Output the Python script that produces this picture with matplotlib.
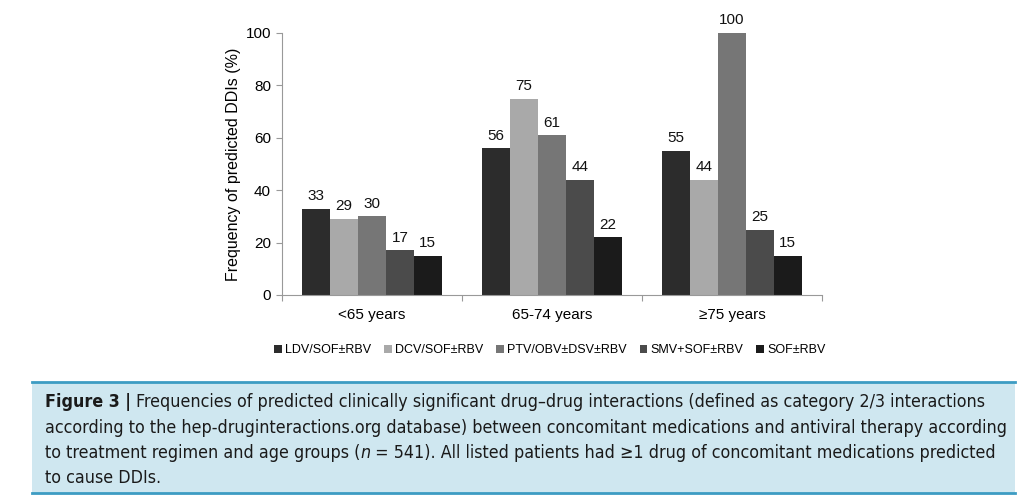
import numpy as np
import matplotlib
matplotlib.use("Agg")
import matplotlib.pyplot as plt
from matplotlib.patches import Rectangle
from matplotlib import font_manager

# data
age_groups = ["<65 years", "65-74 years", "\u226575 years"]
regimens = ["LDV/SOF\u00b1RBV", "DCV/SOF\u00b1RBV", "PTV/OBV\u00b1DSV\u00b1RBV",
            "SMV+SOF\u00b1RBV", "SOF\u00b1RBV"]
ldv_sof = [33, 56, 55]
dcv_sof = [29, 75, 44]
ptv_obv = [30, 61, 100]
smv_sof = [17, 44, 25]
sof_only = [15, 22, 15]
series = [ldv_sof, dcv_sof, ptv_obv, smv_sof, sof_only]
bar_colors = ["#2c2c2c", "#a9a9a9", "#767676", "#4b4b4b", "#1b1b1b"]

caption_lines = [
    [("Figure 3 | ", "bold"), ("Frequencies of predicted clinically significant drug\u2013drug interactions (defined as category 2/3 interactions", "normal")],
    [("according to the hep-druginteractions.org database) between concomitant medications and antiviral therapy according", "normal")],
    [("to treatment regimen and age groups (", "normal"), ("n", "italic"), (" = 541). All listed patients had \u22651 drug of concomitant medications predicted", "normal")],
    [("to cause DDIs.", "normal")],
]

plt.rcParams['font.family'] = ['Liberation Sans', 'DejaVu Sans']

fig = plt.figure(figsize=(10.24, 5.04), dpi=100)
ax = fig.add_axes([282 / 1024, 209 / 504, 540 / 1024, 262 / 504])

x = np.arange(len(age_groups))
width = 0.155
offsets = (np.arange(len(series)) - 2) * width
for vals, off, col, name in zip(series, offsets, bar_colors, regimens):
    bars = ax.bar(x + off, vals, width, color=col, label=name)
    for b, v in zip(bars, vals):
        ax.annotate(str(v), (b.get_x() + b.get_width() / 2, v),
                    xytext=(0, 4), textcoords="offset points",
                    ha="center", va="bottom", fontsize=11, color="#111111")

ax.set_xlim(-0.5, 2.5)
ax.set_ylim(0, 100)
ax.set_yticks(range(0, 101, 20))
ax.set_xticks([-0.5, 0.5, 1.5, 2.5])
ax.set_xticklabels([])
ax.set_xticks(x, minor=True)
ax.set_xticklabels(age_groups, minor=True, fontsize=11)
ax.tick_params(axis="x", which="minor", length=0, pad=9)
ax.tick_params(axis="x", which="major", length=4, color="#999999", direction="out")
ax.tick_params(axis="y", length=4, color="#999999", labelsize=11, pad=4)
for s in ["top", "right"]:
    ax.spines[s].set_visible(False)
for s in ["left", "bottom"]:
    ax.spines[s].set_color("#999999")
ax.set_ylabel("Frequency of predicted DDIs (%)", fontsize=11.5, labelpad=3)

ax.legend(loc="center", bbox_to_anchor=(550 / 1024, 1 - 350 / 504),
          bbox_transform=fig.transFigure, ncol=5, frameon=False,
          fontsize=9, handlelength=0.6, handleheight=0.6, handletextpad=0.3,
          columnspacing=1.0)

# caption box
fig.patches.append(Rectangle((32 / 1024, 1 - 493 / 504), (1015 - 32) / 1024, (493 - 382) / 504,
                             transform=fig.transFigure, facecolor="#cfe7f0",
                             edgecolor="none", zorder=0))
for yy in [382, 493]:
    fig.add_artist(plt.Line2D([32 / 1024, 1015 / 1024], [1 - yy / 504] * 2,
                              transform=fig.transFigure, color="#3d9cc3", lw=2))

names = {f.name for f in font_manager.fontManager.ttflist}
cap_font = ['Liberation Sans Narrow'] if 'Liberation Sans Narrow' in names else ['DejaVu Sans']
cap_stretch = "normal" if cap_font[0] == 'Liberation Sans Narrow' else "condensed"
line_y = [402, 428, 453, 478]
target_w = 985 - 45  # width of the first caption line in the reference


def draw_caption(size):
    fig.canvas.draw()
    renderer = fig.canvas.get_renderer()
    drawn = []
    widths = []
    for pieces, yy in zip(caption_lines, line_y):
        xp = 45
        for txt, style in pieces:
            t = fig.text(xp / 1024, 1 - yy / 504, txt, family=cap_font, fontsize=size,
                         fontstretch=cap_stretch,
                         fontweight="bold" if style == "bold" else "normal",
                         fontstyle="italic" if style == "italic" else "normal",
                         va="center", ha="left", color="#1a1a1a")
            xp += t.get_window_extent(renderer).width
            drawn.append(t)
        widths.append(xp - 45)
    return drawn, widths


drawn, widths = draw_caption(12)
cap_size = min(12 * target_w / widths[0], 13)
for t in drawn:
    t.remove()
draw_caption(cap_size)

fig.savefig("out.png", dpi=100)
